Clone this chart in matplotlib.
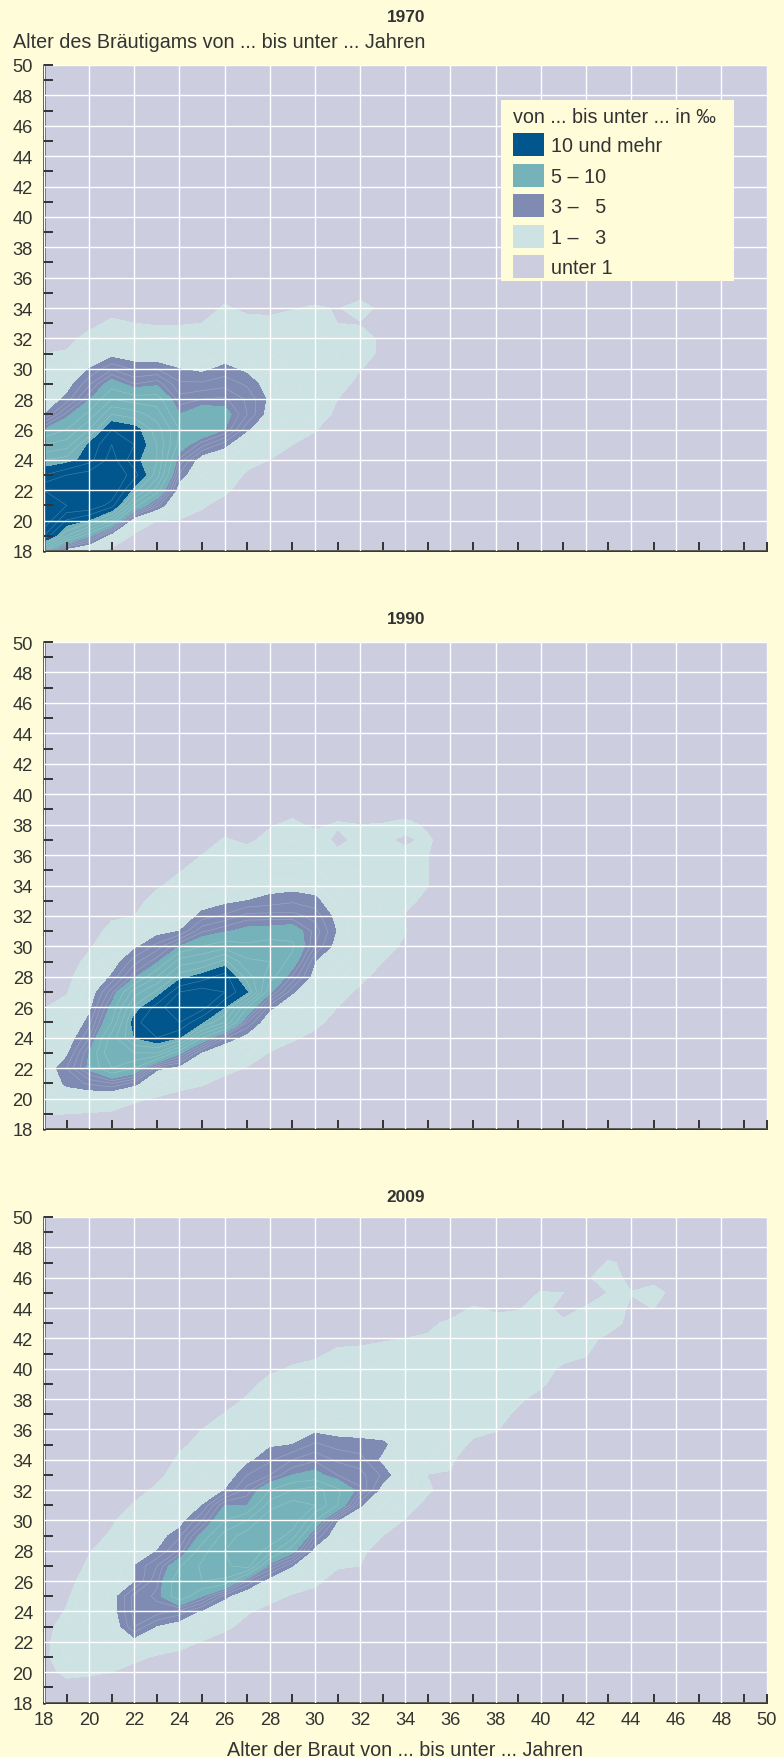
import numpy as np
import matplotlib
matplotlib.use("Agg")
import matplotlib.pyplot as plt
from matplotlib.patches import Patch, Rectangle

plt.rcParams['font.family'] = ['Liberation Sans', 'DejaVu Sans']

W, H = 784, 1758
AGES = np.arange(18, 51)
TITLES = ["1970", "1990", "2009"]
LEVELS = [0, 1, 3, 5, 10, 1000]
LEGEND_LABELS = ["unter 1", "1 –   3", "3 –   5", "5 – 10", "10 und mehr"]
COLORS = ["#CCCEE0", "#CDE2E3", "#7F8BB3", "#76B2B9", "#00568D"]
BG = "#FFFDD9"
INK = "#333333"

# per-mille values: bride age -> (first groom age, values for consecutive groom ages)
values_1970 = {
    18: (18, [6, 12, 14, 14, 13, 11, 9, 7, 5, 2.9, 2.4, 2, 1.5, 1, .7, .4]),
    19: (18, [2, 8, 10.9, 13, 13, 12, 9.4, 7.5, 6, 4.7, 3.2, 2.6, 1.8, 1.1, .7, .4]),
    20: (18, [1.2, 5.2, 9.8, 13, 13, 12.5, 10.6, 10.2, 8, 6.3, 4.9, 3.9, 3, 2.2, 1.3, .7, .4]),
    21: (18, [.7, 2.2, 7, 11.5, 13, 13, 12.5, 12, 11, 9, 7, 5.5, 3.9, 2.7, 2, 1.2, .6]),
    22: (18, [.4, .8, 2, 6.5, 9.5, 11.5, 10.3, 11, 10.5, 8.5, 6.5, 4.5, 3.4, 2.5, 1.8, 1, .6]),
    23: (18, [.3, .5, 1, 3.7, 6.5, 8.5, 9, 9, 8.5, 7.5, 6.5, 4.8, 3.5, 2.3, 1.5, .9, .5]),
    24: (18, [.2, .4, .95, 1.6, 2.3, 3.4, 4.4, 5.6, 6, 5, 4.2, 3.6, 3, 2.2, 1.6, .9, .5]),
    25: (19, [.3, .7, 1.1, 1.5, 2, 2.4, 4.2, 6, 5.7, 4.5, 3.6, 2.8, 2.1, 1.5, 1, .6]),
    26: (20, [.4, .7, 1.15, 1.6, 2.2, 3.2, 5, 5.4, 4.6, 3.8, 3.2, 2.5, 2, 1.6, 1.1, .7]),
    27: (21, [.4, .6, .85, 1.3, 2, 3.1, 4, 3.9, 3.4, 2.8, 2.2, 1.8, 1.3, .8]),
    28: (22, [.3, .6, 1, 1.6, 2.1, 2.6, 2.8, 2.6, 2.3, 2, 1.7, 1.3, .7]),
    29: (23, [.4, .7, 1, 1.5, 1.9, 2.1, 2.1, 2, 1.9, 1.6, 1.3, .95, .5]),
    30: (24, [.4, .7, 1.05, 1.5, 1.7, 1.8, 1.8, 1.7, 1.6, 1.4, 1.1, .6]),
    31: (25, [.3, .5, .8, 1, 1.4, 1.5, 1.5, 1.4, 1, .95, .4]),
    32: (29, [.7, 1.05, 1.3, 1.3, .95, 1.3, .7]),
    33: (30, [.5, .85, .85, .6, .8, .4]),
}

values_1990 = {
    18: (18, [.6, 1.05, 1.5, 2, 2.4, 2.3, 2, 1.5, .95, .6, .3]),
    19: (18, [.7, 1, 2.2, 3.2, 3.5, 2.8, 2.3, 1.8, 1.4, .9, .6, .3]),
    20: (18, [.5, .9, 2.2, 3.6, 5.2, 5, 4, 3.3, 2.7, 2.4, 2, 1.4, .8, .4]),
    21: (18, [.3, .8, 1.9, 4, 7, 8, 7.5, 6, 5.3, 4.3, 3.1, 2.5, 2, 1.4, .8, .3]),
    22: (18, [.2, .5, 1.2, 3.3, 6, 8, 10, 10.6, 9.2, 7.5, 4.8, 3.8, 2.8, 2, 1, .5]),
    23: (19, [.3, .9, 1.8, 3.2, 8, 11, 12, 11.5, 9.2, 7, 4.8, 3.7, 2.7, 2.1, 1.5, .8, .3]),
    24: (19, [.2, .7, 1.3, 2.6, 5.2, 10, 12, 13, 12, 9.5, 7.5, 5, 3, 2.4, 2, 1.5, .9, .4]),
    25: (19, [.1, .5, 1.1, 2, 2.8, 6, 10, 12.5, 12.5, 10.5, 8, 6, 4.4, 3.2, 2.6, 2.1, 1.6, 1, .5]),
    26: (20, [.3, .7, 1.3, 2, 3.6, 8, 10, 12, 11.5, 9.3, 6.6, 4.9, 3.6, 2.8, 2.3, 1.9, 1.5, 1.1, .6]),
    27: (20, [.2, .5, .95, 1.6, 2.6, 4, 6, 10, 8.5, 7.2, 6.2, 5.3, 4.2, 3, 2.5, 2, 1.4, .8, .4]),
    28: (21, [.3, .6, .95, 1.5, 2.2, 3.2, 5.2, 6.5, 7, 6.5, 5.4, 4.2, 3.2, 2.7, 2.2, 1.7, 1.3, .9, .4]),
    29: (22, [.3, .7, 1.1, 1.6, 2.2, 3.1, 4.4, 5.6, 6.2, 5.6, 4.2, 3.4, 2.7, 2.2, 1.8, 1.5, 1.2, .7, .3]),
    30: (23, [.3, .8, 1.2, 1.6, 2, 2.6, 3, 4, 4.3, 3.8, 3.2, 2.6, 2.1, 1.7, 1.4, .8, .4]),
    31: (24, [.3, .7, 1, 1.3, 1.6, 2.1, 2.6, 2.9, 2.7, 2.3, 1.9, 1.5, 1.2, .8, 1.1, .6, .2]),
    32: (25, [.3, .6, .85, 1.2, 1.5, 1.9, 2.1, 2.1, 1.9, 1.7, 1.5, 1.3, 1.2, 1, .5, .2]),
    33: (27, [.4, .7, 1, 1.3, 1.5, 1.5, 1.4, 1.3, 1.3, 1.2, 1.15, 1.05, .5]),
    34: (29, [.6, .85, 1.05, .95, 1.2, 1.5, 1.4, 1.2, .85, 1.3, .5]),
    35: (32, [.4, .8, 1.02, 1.02, 1.02, 1.15, .8]),
    36: (34, [.4, .5, .5, .4, .3]),
}

values_2009 = {
    18: (19, [.4, .7, .8, .7, .5, .3]),
    19: (18, [.3, .7, 1.2, 1.6, 1.7, 1.6, 1.1, .8, .4]),
    20: (18, [.3, .7, 1.1, 1.5, 1.8, 2.1, 2.2, 2.1, 1.8, 1.3, .9, .4]),
    21: (18, [.2, .5, 1, 1.6, 2, 2.3, 2.6, 2.6, 2.3, 2.1, 1.8, 1.2, .8, .3]),
    22: (19, [.3, .7, 1.2, 2.6, 4, 4.2, 4.2, 2.9, 3, 2.6, 2.2, 1.8, 1.1, .6]),
    23: (19, [.2, .5, .9, 1.7, 2.9, 4.3, 4.6, 4.4, 4, 3, 2.6, 2.2, 1.8, 1.2, .7, .3]),
    24: (20, [.3, .7, 1.4, 2.5, 3.8, 6.8, 6.8, 5.9, 4.1, 3.4, 2.6, 2.3, 1.9, 1.5, 1.2, .8, .3]),
    25: (20, [.2, .5, .95, 1.8, 2.8, 5, 7, 7.2, 6.6, 5.3, 4, 3, 2.4, 1.9, 1.6, 1.3, 1, .5]),
    26: (21, [.3, .6, 1.2, 2.1, 3.2, 6.8, 7.8, 8, 7.4, 6, 5, 3, 2.4, 2, 1.6, 1.3, 1.05, .5]),
    27: (22, [.3, .7, 1.1, 2.1, 4, 8.5, 9, 8.5, 7, 5, 4.2, 3.5, 2.8, 2.3, 1.9, 1.6, 1.1, .7, .3]),
    28: (23, [.3, .7, 1.3, 2.5, 4.5, 7.5, 9, 9, 7.5, 6, 4, 3.4, 2.9, 2.4, 2, 1.7, 1.3, .8, .3]),
    29: (24, [.4, .9, 1.6, 3, 5.4, 7.5, 8.8, 8.5, 7, 5, 4, 3, 2.6, 2.3, 2, 1.6, 1.1, .7, .3]),
    30: (24, [.3, .7, 1.2, 1.9, 2.6, 4, 6, 8, 7.5, 5.3, 4.4, 3.6, 2.8, 2.4, 2.1, 1.7, 1.3, .8, .3]),
    31: (25, [.3, .6, 1.1, 1.7, 2.3, 3, 6, 6.2, 4.5, 3.9, 3.3, 2.7, 2.3, 2, 1.8, 1.5, 1.2, .7, .3]),
    32: (26, [.6, 1, 1.1, 1.6, 2.2, 3.1, 4.6, 4.2, 3.7, 3.2, 2.7, 2.3, 2, 1.8, 1.6, 1.2, .8, .3]),
    33: (27, [.5, .8, 1, 1.5, 2, 2.6, 3.4, 2.8, 3.2, 2.4, 2.2, 1.9, 1.7, 1.5, 1.3, .9, .4]),
    34: (28, [.4, .6, .95, 1.4, 1.8, 2.2, 2, 2.2, 2, 1.9, 1.8, 1.6, 1.4, 1.2, 1, .5]),
    35: (30, [.5, .7, 1.15, .97, 1.5, 1.7, 1.7, 1.6, 1.5, 1.4, 1.3, 1.2, 1.05, .9, .4]),
    36: (32, [.5, .96, 1.1, 1.4, 1.5, 1.6, 1.5, 1.4, 1.3, 1.2, 1.2, 1.1, .7, .3]),
    37: (33, [.4, .6, .85, 1.2, 1.3, 1.4, 1.4, 1.4, 1.3, 1.2, 1.2, 1.05, .6, .2]),
    38: (34, [.4, .7, 1.05, 1.2, 1.3, 1.3, 1.3, 1.3, 1.2, 1.1, .95, .5]),
    39: (35, [.4, .7, .9, 1.1, 1.2, 1.3, 1.3, 1.2, 1.1, .98, .6, .2]),
    40: (36, [.3, .5, .8, 1.1, 1.2, 1.2, 1.2, 1.2, 1.1, 1.05, .5]),
    41: (38, [.4, .7, .9, 1.2, 1.2, 1.05, .9, 1, .3]),
    42: (39, [.4, .8, 1.05, 1.2, 1.2, 1.02, .85, .9, .3]),
    43: (40, [.4, .6, .85, 1.3, 1.4, 1.01, 1.3, 1.1, .3]),
    44: (43, [.8, .9, 1.02, .8, .8]),
    45: (44, [1.01, 1.4, .6, .2]),
    46: (44, [.3, .6, .5, .2]),
}

PANEL_VALUES = [values_1970, values_1990, values_2009]
PANEL_PIXELS = [(66, 552), (643, 1130), (1218, 1703.5)]
TITLE_Y = [17, 620, 1197]
LEFT, RIGHT = 44, 766.5


def to_matrix(columns):
    z = np.full((AGES.size, AGES.size), 0.1)
    for bride, (start, vals) in columns.items():
        for i, v in enumerate(vals):
            z[start - 18 + i, bride - 18] = v
    return z


fig = plt.figure(figsize=(W / 100, H / 100), dpi=100, facecolor=BG)
FS_TICK = 13.2
FS_TEXT = 14.25

for k, (title, columns, (top, bottom)) in enumerate(zip(TITLES, PANEL_VALUES, PANEL_PIXELS)):
    ax = fig.add_axes([LEFT / W, 1 - bottom / H, (RIGHT - LEFT) / W, (bottom - top) / H])
    ax.set_facecolor(COLORS[0])
    z = to_matrix(columns)
    ax.contourf(AGES, AGES, z, levels=LEVELS, colors=COLORS, zorder=1)
    ax.contour(AGES, AGES, z, levels=[1.5, 2, 2.5, 3.5, 4, 4.5, 6, 7, 8, 9, 11, 12, 13],
               colors="#EAF3EC", linewidths=0.4, alpha=0.3, zorder=1.5)
    ax.set_xlim(18, 50)
    ax.set_ylim(18, 50)
    even = np.arange(18, 51, 2)
    ticks = list(np.arange(19, 50, 2)) + [50]
    ax.set_xticks(even)
    ax.set_yticks(even)
    ax.set_xticks(ticks, minor=True)
    ax.set_yticks(ticks, minor=True)
    ax.xaxis.remove_overlapping_locs = False
    ax.yaxis.remove_overlapping_locs = False
    ax.grid(True, which="major", color="white", linewidth=1.0, zorder=2)
    ax.set_axisbelow(False)
    ax.tick_params(which="major", length=0, labelsize=FS_TICK, labelcolor=INK, pad=8)
    ax.tick_params(axis="x", which="major", pad=6)
    ax.tick_params(which="minor", direction="in", length=6.2, width=1.4, color=INK)
    if k < 2:
        ax.tick_params(axis="x", which="major", labelbottom=False)
    for s in ("top", "right"):
        ax.spines[s].set_visible(False)
    ax.spines["left"].set_color(INK)
    ax.spines["left"].set_linewidth(1.8)
    ax.spines["bottom"].set_color(INK)
    ax.spines["bottom"].set_linewidth(1.4)
    fig.text(406 / W, 1 - TITLE_Y[k] / H, title, ha="center", va="center",
             fontsize=12.4, fontweight="bold", color=INK)
    if k == 0:
        fig.text(13 / W, 1 - 43 / H, "Alter des Bräutigams von ... bis unter ... Jahren",
                 ha="left", va="center", fontsize=FS_TEXT, color=INK)
        ax.add_patch(Rectangle((501 / W, 1 - 282 / H), 233 / W, 181 / H, transform=fig.transFigure,
                               facecolor=BG, edgecolor="none", zorder=4, clip_on=False))
        handles = [Patch(facecolor=c, edgecolor="none", label=l)
                   for c, l in zip(COLORS[::-1], LEGEND_LABELS[::-1])]
        leg = ax.legend(handles=handles, title="von ... bis unter ... in ‰", loc="upper left",
                        bbox_to_anchor=((513 - LEFT) / (RIGHT - LEFT), (bottom - 108) / (bottom - top)),
                        borderaxespad=0, frameon=False, fontsize=FS_TEXT, title_fontsize=FS_TEXT,
                        handlelength=1.57, handleheight=1.42, labelspacing=0.37,
                        handletextpad=0.36, borderpad=0, alignment="left",
                        labelcolor=INK)
        leg.get_title().set_color(INK)
        leg.set_zorder(5)

fig.text(405 / W, 1 - 1751 / H, "Alter der Braut von ... bis unter ... Jahren",
         ha="center", va="center", fontsize=FS_TEXT, color=INK)

fig.savefig("out.png", dpi=100, facecolor=BG)
